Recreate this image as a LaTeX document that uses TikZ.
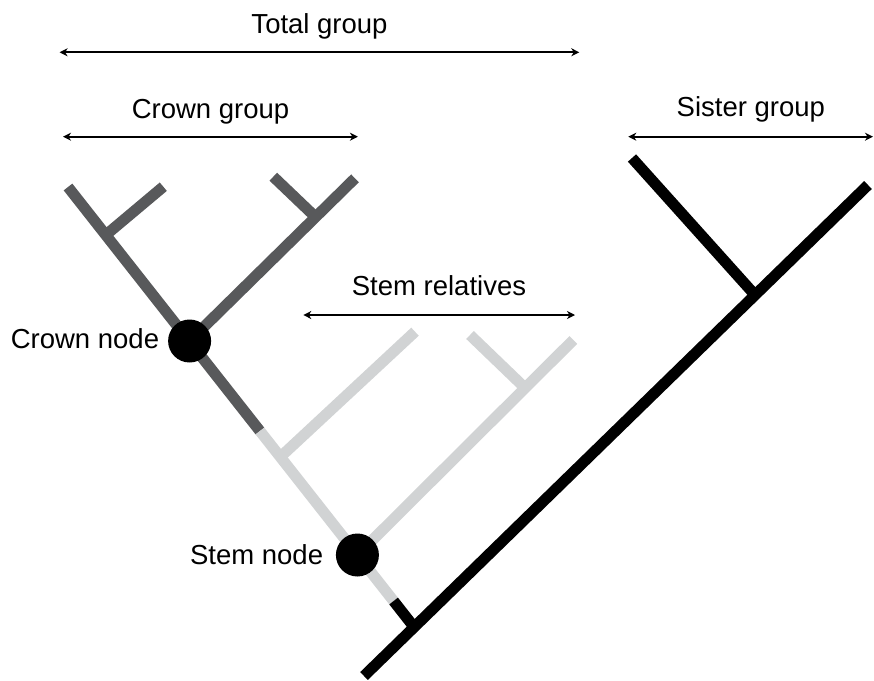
\documentclass[tikz,border=0pt]{standalone}
\usepackage{fontspec}
\setmainfont{Liberation Sans}
\usetikzlibrary{arrows.meta}
\definecolor{crowngray}{HTML}{58595B}
\definecolor{stemgray}{HTML}{D1D3D4}
\begin{document}
\begin{tikzpicture}[x=1pt,y=-1pt,
  branch/.style={line width=11pt},
  crownbranch/.style={branch, draw=crowngray},
  stembranch/.style={branch, draw=stemgray},
  blackbranch/.style={branch, draw=black},
  span/.style={line width=1.8pt,
    {Stealth[length=8pt,width=8pt,inset=2.5pt]}-{Stealth[length=8pt,width=8pt,inset=2.5pt]}},
  lbl/.style={font=\fontsize{27.5}{33}\selectfont, inner sep=0pt, text=black},
  dot/.style={circle, fill=black, draw=none, minimum size=43pt, inner sep=0pt}]
\useasboundingbox (0,0) rectangle (874,680);

% main trunk and sister group
\coordinate (trunkbase) at (364,676);
\coordinate (trunktip)  at (868,185);
\coordinate (J)         at (414,627);
\coordinate (S)         at (755,295);
\coordinate (sistertip) at (632,158);

% lineage leading to the crown group
\coordinate (B1)        at (393.6,601);
\coordinate (stempos)   at (357.4,555);
\coordinate (L1)        at (280.3,457);
\coordinate (B2)        at (259.9,431);
\coordinate (crownpos)  at (189.6,341);
\coordinate (D1)        at (105.8,235);
\coordinate (cltip)     at (68,187);
\coordinate (d1tip)     at (163.3,186.7);

% crown group, right clade
\coordinate (crtip)     at (355,178.3);
\coordinate (D2)        at (315.5,217);
\coordinate (d2tip)     at (273.3,176.7);

% stem relatives
\coordinate (l1tip)     at (415,331.7);
\coordinate (l2tip)     at (573.3,340);
\coordinate (L2)        at (525.1,388);
\coordinate (l2subtip)  at (470,335);

% branches
\draw[crownbranch] (D1) -- (d1tip);
\draw[crownbranch] (D2) -- (d2tip);
\draw[crownbranch] (crownpos) -- (crtip);
\draw[crownbranch] (B2) -- (cltip);
\draw[stembranch] (L1) -- (l1tip);
\draw[stembranch] (L2) -- (l2subtip);
\draw[stembranch] (stempos) -- (l2tip);
\draw[stembranch] (B1) -- (B2);
\draw[blackbranch] (J) -- (B1);
\draw[blackbranch] (S) -- (sistertip);
\draw[blackbranch] (trunkbase) -- (trunktip);

% nodes
\node[dot] (crownnode) at (crownpos) {};
\node[dot] (stemnode) at (stempos) {};
\node[lbl, anchor=base east] (crownlbl) at (159.3,348.3) {Crown node};
\node[lbl, anchor=base east] (stemlbl) at (323.3,564) {Stem node};

% group spans
\coordinate (tgL) at (59.6,52.3);  \coordinate (tgR) at (579.3,52.3);
\coordinate (cgL) at (63,136.7);   \coordinate (cgR) at (357.9,136.7);
\coordinate (sgL) at (628.3,136.7); \coordinate (sgR) at (873,136.7);
\coordinate (srL) at (303.3,315);  \coordinate (srR) at (575,315);
\draw[span] (tgL) -- (tgR);
\draw[span] (cgL) -- (cgR);
\draw[span] (sgL) -- (sgR);
\draw[span] (srL) -- (srR);

\node[lbl, anchor=base] (totallbl) at (319.5,33.3) {Total group};
\node[lbl, anchor=base] (crowngrp) at (210.5,118) {Crown group};
\node[lbl, anchor=base] (sistergrp) at (750.8,116.7) {Sister group};
\node[lbl, anchor=base] (stemrel) at (439,295) {Stem relatives};
\end{tikzpicture}
\end{document}
